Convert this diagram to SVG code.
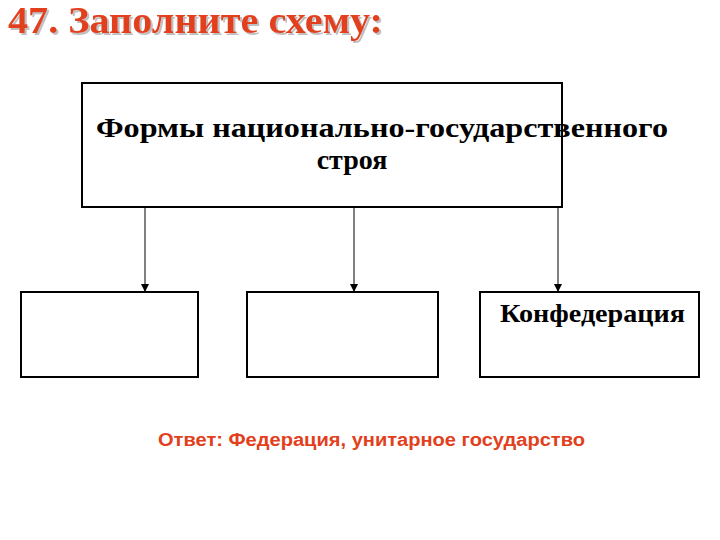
<svg xmlns="http://www.w3.org/2000/svg" width="720" height="540" viewBox="0 0 720 540">
<style>
.box{fill:#fff;stroke:#000;stroke-width:2}
.ser{font-family:"Liberation Serif","Times New Roman","DejaVu Serif",serif;font-weight:bold;fill:#000}
.conn line{stroke:#000;stroke-width:1}
</style>
<defs>
<marker id="ah" markerWidth="8" markerHeight="8" refX="8" refY="4" orient="auto" markerUnits="userSpaceOnUse" viewBox="0 0 8 8">
<path d="M0,0 L8,4 L0,8 Z" fill="#000"/>
</marker>
<filter id="sh" x="-5%" y="-20%" width="110%" height="150%">
<feDropShadow dx="2" dy="2" stdDeviation="0.5" flood-color="#b0b0b0" flood-opacity="0.8"/>
</filter>
</defs>
<rect width="720" height="540" fill="#fff"/>
<g id="title">
<text x="8" y="33" class="ser" font-size="38" style="fill:#E2401C" filter="url(#sh)" textLength="375" lengthAdjust="spacingAndGlyphs">47. Заполните схему:</text>
</g>
<g id="main">
<rect class="box" x="82" y="83" width="480" height="124"/>
<text x="96" y="137" class="ser" font-size="28" textLength="572" lengthAdjust="spacingAndGlyphs">Формы национально-государственного</text>
<text x="352" y="169" class="ser" font-size="28" text-anchor="middle">строя</text>
</g>
<g class="conn" id="connectors">
<line x1="145" y1="207" x2="145" y2="292" marker-end="url(#ah)"/>
<line x1="354" y1="207" x2="354" y2="292" marker-end="url(#ah)"/>
<line x1="558" y1="207" x2="558" y2="292" marker-end="url(#ah)"/>
</g>
<g id="box1"><rect class="box" x="21" y="292" width="177" height="85"/></g>
<g id="box2"><rect class="box" x="247" y="292" width="191" height="85"/></g>
<g id="box3"><rect class="box" x="480" y="292" width="219" height="85"/>
<text x="500" y="322" class="ser" font-size="25" textLength="185" lengthAdjust="spacingAndGlyphs">Конфедерация</text>
</g>
<g id="answer">
<text x="158" y="446" font-family="'Liberation Sans',Arial,sans-serif" font-weight="bold" font-size="18" fill="#E2401C" textLength="427" lengthAdjust="spacingAndGlyphs">Ответ: Федерация, унитарное государство</text>
</g>
</svg>
